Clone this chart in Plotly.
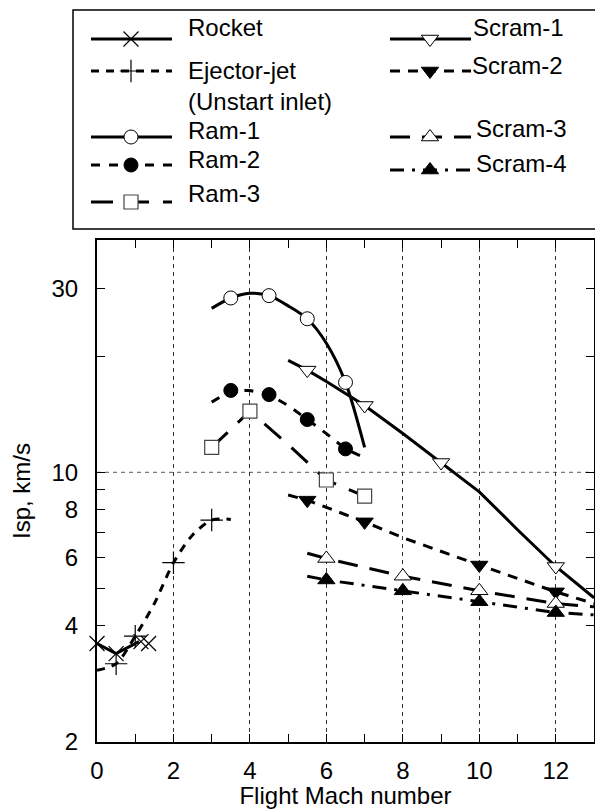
import plotly.graph_objects as go
import math

# ---------------- data ----------------
rocket_line_m = [0, 0.5, 1.1]
rocket_line_isp = [3.60, 3.39, 3.64]
rocket_mk_m = [0, 0.5, 1.15, 1.35]
rocket_mk_isp = [3.60, 3.39, 3.64, 3.60]

ejector_line_m = [0, 0.5, 1.0, 1.5, 2.0, 2.5, 3.0, 3.5]
ejector_line_isp = [3.07, 3.19, 3.76, 4.57, 5.83, 6.88, 7.52, 7.55]
ejector_mk_m = [0.5, 1.0, 2.0, 3.0]
ejector_mk_isp = [3.19, 3.76, 5.83, 7.52]

ram1_line_m = [3, 3.5, 4, 4.5, 5, 5.5, 6, 6.5, 7]
ram1_line_isp = [26.6, 28.3, 29.1, 28.7, 27.0, 25.0, 21.6, 17.1, 11.6]
ram1_mk_m = [3.5, 4.5, 5.5, 6.5]
ram1_mk_isp = [28.3, 28.7, 25.0, 17.1]

ram2_line_m = [3, 3.5, 4, 4.5, 5, 5.5, 6, 6.5, 7]
ram2_line_isp = [15.2, 16.3, 16.3, 15.9, 14.9, 13.7, 12.6, 11.5, 10.9]
ram2_mk_m = [3.5, 4.5, 5.5, 6.5]
ram2_mk_isp = [16.3, 15.9, 13.7, 11.5]

ram3_line_m = [3, 4, 5, 6, 7]
ram3_line_isp = [11.6, 14.4, 11.8, 9.55, 8.67]
ram3_mk_m = [3, 4, 6, 7]
ram3_mk_isp = [11.6, 14.4, 9.55, 8.67]

scram1_line_m = [5, 5.5, 6, 7, 8, 9, 10, 11, 12, 13]
scram1_line_isp = [19.5, 18.4, 17.2, 14.9, 12.6, 10.6, 8.9, 7.1, 5.7, 4.73]
scram1_mk_m = [5.5, 7, 9, 12]
scram1_mk_isp = [18.4, 14.9, 10.6, 5.7]

scram2_line_m = [5, 5.5, 7, 8, 10, 12, 13]
scram2_line_isp = [8.73, 8.47, 7.44, 6.77, 5.75, 4.90, 4.57]
scram2_mk_m = [5.5, 7, 10, 12]
scram2_mk_isp = [8.47, 7.44, 5.75, 4.90]

scram3_line_m = [5.5, 6, 8, 10, 12, 13]
scram3_line_isp = [6.17, 5.98, 5.38, 4.93, 4.57, 4.48]
scram3_mk_m = [6, 8, 10, 12]
scram3_mk_isp = [5.98, 5.38, 4.93, 4.57]

scram4_line_m = [5.5, 6, 8, 10, 12, 13]
scram4_line_isp = [5.38, 5.26, 4.93, 4.62, 4.33, 4.27]
scram4_mk_m = [6, 8, 10, 12]
scram4_mk_isp = [5.26, 4.93, 4.62, 4.33]

x_tick_vals = [0, 2, 4, 6, 8, 10, 12]
y_tick_vals = [2, 4, 6, 8, 10, 30]
y_minor_vals = [5, 7, 9, 20]

# ---------------- styles ----------------
FONT = "Liberation Sans, Arial, sans-serif"
FS = 24
W, H = 595, 809
LW = 3

styles = {
    "Rocket": dict(dash="solid", shape="linear",
                   marker=dict(symbol="x-thin-open", size=15, color="black", line=dict(width=1.2, color="black"))),
    "Ejector": dict(dash="8px,7px", shape="spline",
                    marker=dict(symbol="cross-thin-open", size=16, color="black", line=dict(width=1.2, color="black"))),
    "Ram-1": dict(dash="solid", shape="spline",
                  marker=dict(symbol="circle", size=14, color="white", line=dict(width=1, color="black"))),
    "Ram-2": dict(dash="9px,9px", shape="linear",
                  marker=dict(symbol="circle", size=14, color="black", line=dict(width=1, color="black"))),
    "Ram-3": dict(dash="22px,14px", shape="linear",
                  marker=dict(symbol="square", size=14, color="white", line=dict(width=1.2, color="#444"))),
    "Scram-1": dict(dash="solid", shape="linear",
                    marker=dict(symbol="triangle-down", size=15, color="white", line=dict(width=1, color="black"))),
    "Scram-2": dict(dash="10px,8px", shape="linear",
                    marker=dict(symbol="triangle-down", size=15, color="black", line=dict(width=1, color="black"))),
    "Scram-3": dict(dash="20px,12px", shape="linear",
                    marker=dict(symbol="triangle-up", size=15, color="white", line=dict(width=1, color="black"))),
    "Scram-4": dict(dash="14px,8px,3px,8px", shape="linear",
                    marker=dict(symbol="triangle-up", size=15, color="black", line=dict(width=1, color="black"))),
}

data = [
    ("Rocket", rocket_line_m, rocket_line_isp, rocket_mk_m, rocket_mk_isp),
    ("Ejector", ejector_line_m, ejector_line_isp, ejector_mk_m, ejector_mk_isp),
    ("Ram-1", ram1_line_m, ram1_line_isp, ram1_mk_m, ram1_mk_isp),
    ("Ram-2", ram2_line_m, ram2_line_isp, ram2_mk_m, ram2_mk_isp),
    ("Ram-3", ram3_line_m, ram3_line_isp, ram3_mk_m, ram3_mk_isp),
    ("Scram-1", scram1_line_m, scram1_line_isp, scram1_mk_m, scram1_mk_isp),
    ("Scram-2", scram2_line_m, scram2_line_isp, scram2_mk_m, scram2_mk_isp),
    ("Scram-3", scram3_line_m, scram3_line_isp, scram3_mk_m, scram3_mk_isp),
    ("Scram-4", scram4_line_m, scram4_line_isp, scram4_mk_m, scram4_mk_isp),
]

fig = go.Figure()

# lines first
for key, lm, li, mm, mi in data:
    st = styles[key]
    fig.add_trace(go.Scatter(x=lm, y=li, mode="lines", showlegend=False, hoverinfo="skip",
                             line=dict(color="black", width=LW, dash=st["dash"], shape=st["shape"],
                                       smoothing=0.8)))
# markers on top
for key, lm, li, mm, mi in data:
    st = styles[key]
    fig.add_trace(go.Scatter(x=mm, y=mi, mode="markers", showlegend=False, cliponaxis=False,
                             marker=st["marker"]))

# ---------------- hand-built legend (pixel axes x2/y2) ----------------
leg_left = dict(x0=91, x1=172, xm=131, xt=186)
leg_right = dict(x0=390, x1=471, xm=430, xt=471)
legend_rows = [
    ("Rocket", "Rocket", leg_left, 39, 27, 0),
    ("Ejector", "Ejector-jet<br>(Unstart inlet)", leg_left, 71, 86, 0),
    ("Ram-1", "Ram-1", leg_left, 137, 130, 0),
    ("Ram-2", "Ram-2", leg_left, 165, 159, 0),
    ("Ram-3", "Ram-3", leg_left, 202, 193, 0),
    ("Scram-1", "Scram-1", leg_right, 39, 27, 0),
    ("Scram-2", "Scram-2", leg_right, 71, 65, -1),
    ("Scram-3", "Scram-3", leg_right, 137, 128, 3),
    ("Scram-4", "Scram-4", leg_right, 170, 163, 3),
]
for key, label, col, ly, ty, dx in legend_rows:
    st = styles[key]
    fig.add_trace(go.Scatter(x=[col["x0"], col["x1"]], y=[ly, ly], mode="lines",
                             xaxis="x2", yaxis="y2", showlegend=False, hoverinfo="skip",
                             line=dict(color="black", width=LW, dash=st["dash"])))
    fig.add_trace(go.Scatter(x=[col["xm"]], y=[ly], mode="markers",
                             xaxis="x2", yaxis="y2", showlegend=False, hoverinfo="skip",
                             marker=st["marker"]))
    fig.add_annotation(x=col["xt"] + dx, y=ty, xref="x2", yref="y2", text=label,
                       showarrow=False, xanchor="left", yanchor="middle", align="left",
                       font=dict(family=FONT, size=FS, color="black"))

fig.add_shape(type="rect", xref="x2", yref="y2", x0=73, x1=620, y0=10, y1=229,
              line=dict(color="black", width=1.5), layer="below")

# horizontal dotted line at 10
fig.add_shape(type="line", xref="x domain", yref="y", x0=0, x1=1, y0=10, y1=10,
              line=dict(color="#555", width=1, dash="4px,4px"), layer="below")

axis_font = dict(family=FONT, size=FS, color="black")
fig.update_layout(
    width=W, height=H,
    margin=dict(l=0, r=0, t=0, b=0),
    paper_bgcolor="white", plot_bgcolor="rgba(0,0,0,0)",
    template="none",
    font=dict(family=FONT, size=FS, color="black"),
    xaxis=dict(domain=[97 / W, 594 / W], range=[0, 13], anchor="y",
               tickmode="array", tickvals=x_tick_vals, ticks="inside", ticklen=8, tickwidth=1.2,
               tickcolor="black", showline=True, linecolor="black", linewidth=2, mirror="allticks",
               showgrid=True, gridcolor="#333", gridwidth=1, griddash="4px,4px", zeroline=False,
               minor=dict(dtick=1, tick0=0, ticks="inside", ticklen=8, tickwidth=1.2,
                          tickcolor="black", showgrid=False),
               tickfont=axis_font, ticklabelstandoff=6, automargin=False,
               title=dict(text="Flight Mach number", font=axis_font, standoff=2)),
    yaxis=dict(domain=[(H - 742) / H, (H - 240) / H], type="log",
               range=[math.log10(2), math.log10(40)], anchor="x",
               tickmode="array", tickvals=y_tick_vals, ticktext=[str(v) for v in y_tick_vals],
               ticks="inside", ticklen=8, tickwidth=1.2, tickcolor="black",
               showline=True, linecolor="black", linewidth=2, mirror="allticks",
               showgrid=False, zeroline=False,
               minor=dict(tickmode="array", tickvals=y_minor_vals, ticks="inside", ticklen=8,
                          tickwidth=1.2, tickcolor="black", showgrid=False),
               tickfont=axis_font, ticklabelstandoff=12, automargin=False,
               title=dict(text="Isp, km/s", font=axis_font, standoff=14)),
    xaxis2=dict(domain=[0, 1], range=[0, W], visible=False, anchor="y2", fixedrange=True),
    yaxis2=dict(domain=[0, 1], range=[H, 0], visible=False, anchor="x2", fixedrange=True),
)

fig.write_html("out.html")
